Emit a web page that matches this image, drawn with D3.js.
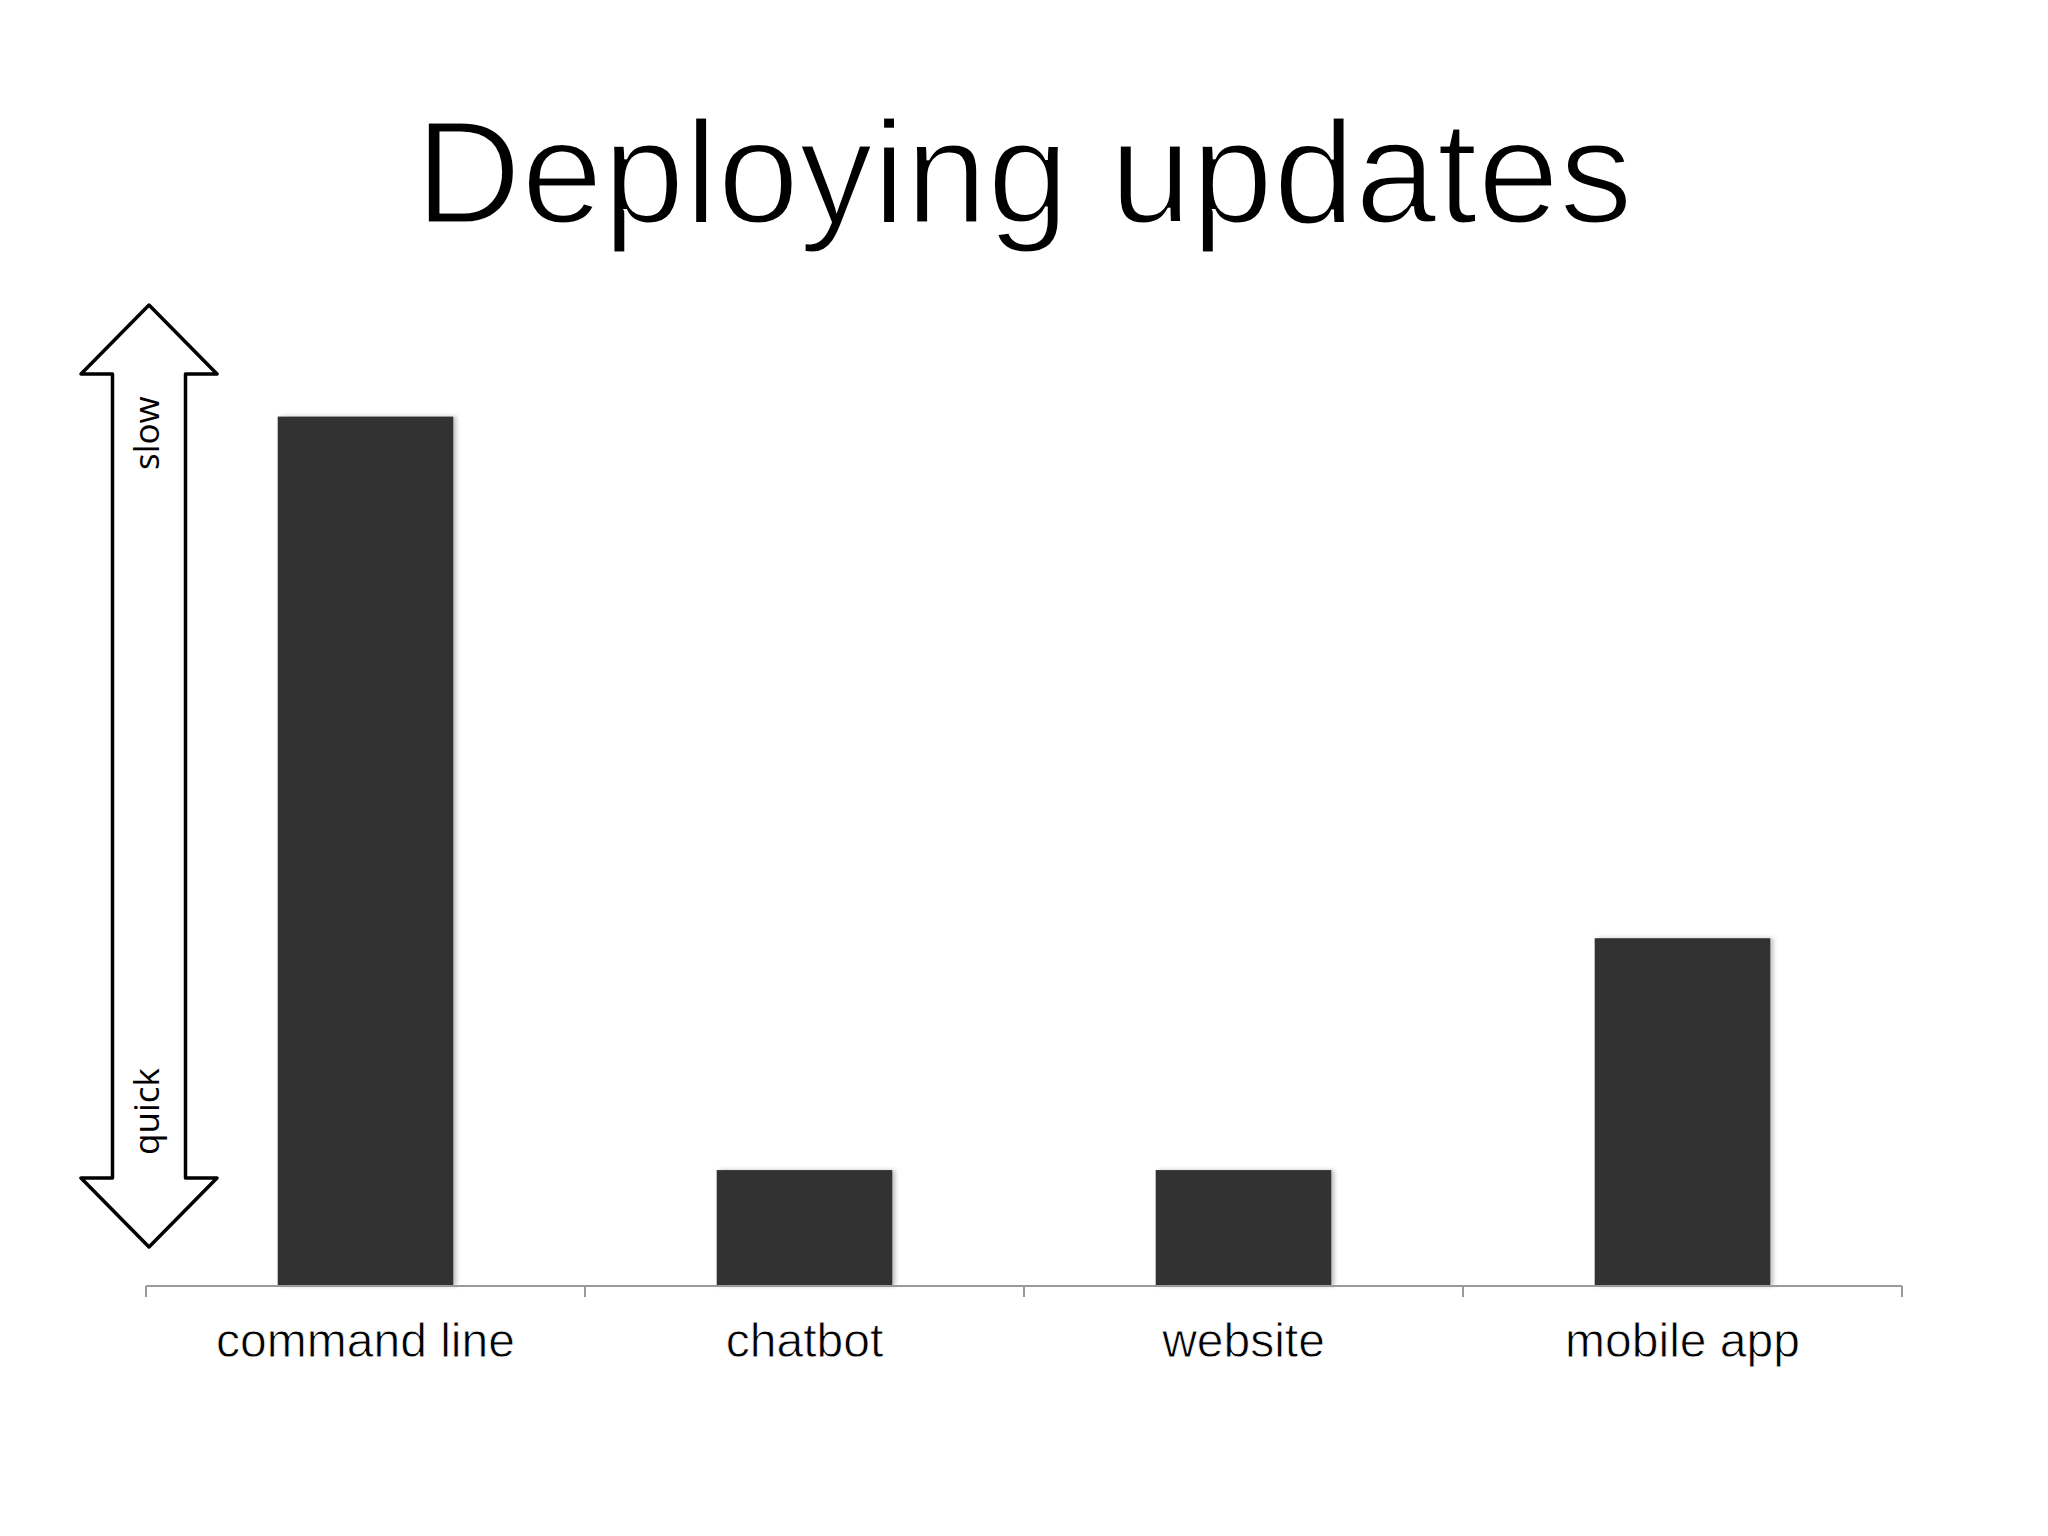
<!DOCTYPE html>
<html>
<head>
<meta charset="utf-8">
<script src="https://cdn.jsdelivr.net/npm/d3@7"></script>
<style>
  body { margin: 0; background: #fff; }
</style>
</head>
<body>
<script>
// chart data
var categories = ["command line", "chatbot", "website", "mobile app"];
var values = [9.0, 1.2, 1.2, 3.6];   // relative time to deploy (quick -> slow)
var titleText = "Deploying updates";
var arrowLabels = ["slow", "quick"];

var w = 2048;
var h = 1536;
var left = 146, right = 1902, baseY = 1286, topY = 320;

var svg = d3.select("body")
            .append("svg")
            .attr("width", w)
            .attr("height", h)
            .style("background", "#fff");

// soft shadow like the original slide bars
var defs = svg.append("defs");
var f = defs.append("filter").attr("id", "shade")
            .attr("x", "-10%").attr("y", "-10%").attr("width", "130%").attr("height", "120%");
f.append("feDropShadow").attr("dx", 3).attr("dy", 0).attr("stdDeviation", 2)
 .attr("flood-color", "#000").attr("flood-opacity", 0.25);

var x = d3.scaleBand()
          .domain(categories)
          .range([left, right])
          .paddingInner(0.6)
          .paddingOuter(0.3);

var y = d3.scaleLinear()
          .domain([0, 10])
          .range([baseY, topY]);

// title (white outline thins the glyphs toward a light weight)
svg.append("text")
   .text(titleText)
   .attr("x", w / 2)
   .attr("y", 223)
   .attr("text-anchor", "middle")
   .attr("font-family", "'Liberation Sans', Arial, sans-serif")
   .attr("font-size", "147px")
   .attr("fill", "#000")
   .attr("stroke", "#fff")
   .attr("stroke-width", 3);

// bars
svg.selectAll("rect.bar")
   .data(values)
   .enter()
   .append("rect")
   .attr("class", "bar")
   .attr("x", function(d, i) { return x(categories[i]); })
   .attr("y", function(d) { return y(d); })
   .attr("width", x.bandwidth())
   .attr("height", function(d) { return baseY - y(d); })
   .attr("fill", "#323232")
   .attr("filter", "url(#shade)");

// x axis: labels from d3 axis, ticks on the category boundaries
var axis = svg.append("g")
   .attr("transform", "translate(0," + baseY + ")")
   .call(d3.axisBottom(x).tickSize(0).tickPadding(0));
axis.select(".domain").remove();
axis.selectAll("text")
    .attr("y", 71)
    .attr("dy", 0)
    .attr("font-family", "'Liberation Sans', Arial, sans-serif")
    .attr("font-size", "48px")
    .attr("fill", "#000")
    .attr("stroke", "#fff")
    .attr("stroke-width", 0.8);

var bounds = categories.map(function(d) { return x(d) + x.bandwidth() / 2 - x.step() / 2; });
bounds.push(right);

svg.append("line")
   .attr("x1", left).attr("x2", right)
   .attr("y1", baseY).attr("y2", baseY)
   .attr("stroke", "#9a9a9a").attr("stroke-width", 2);

svg.selectAll("line.tick")
   .data(bounds)
   .enter()
   .append("line")
   .attr("class", "tick")
   .attr("x1", function(d) { return d; })
   .attr("x2", function(d) { return d; })
   .attr("y1", baseY)
   .attr("y2", baseY + 11)
   .attr("stroke", "#9a9a9a").attr("stroke-width", 2);

// double arrow quick <-> slow
var ax = 149, half = 68, shaft = 36.5, headH = 69;
var aTop = 305, aBot = 1247;
var pts = [
  [ax, aTop], [ax + half, aTop + headH], [ax + shaft, aTop + headH],
  [ax + shaft, aBot - headH], [ax + half, aBot - headH], [ax, aBot],
  [ax - half, aBot - headH], [ax - shaft, aBot - headH],
  [ax - shaft, aTop + headH], [ax - half, aTop + headH]
];
svg.append("path")
   .attr("d", d3.line()(pts) + "Z")
   .attr("fill", "none")
   .attr("stroke", "#000")
   .attr("stroke-width", 3.5)
   .attr("stroke-linejoin", "round");

svg.selectAll("text.arrowlab")
   .data(arrowLabels)
   .enter()
   .append("text")
   .attr("class", "arrowlab")
   .text(function(d) { return d; })
   .attr("transform", function(d, i) {
       var ty = i == 0 ? 470 : 1155;
       return "translate(159," + ty + ") rotate(-90)";
   })
   .attr("font-family", "'Open Sans', sans-serif")
   .attr("font-size", "35px")
   .attr("fill", "#000");
</script>
</body>
</html>
